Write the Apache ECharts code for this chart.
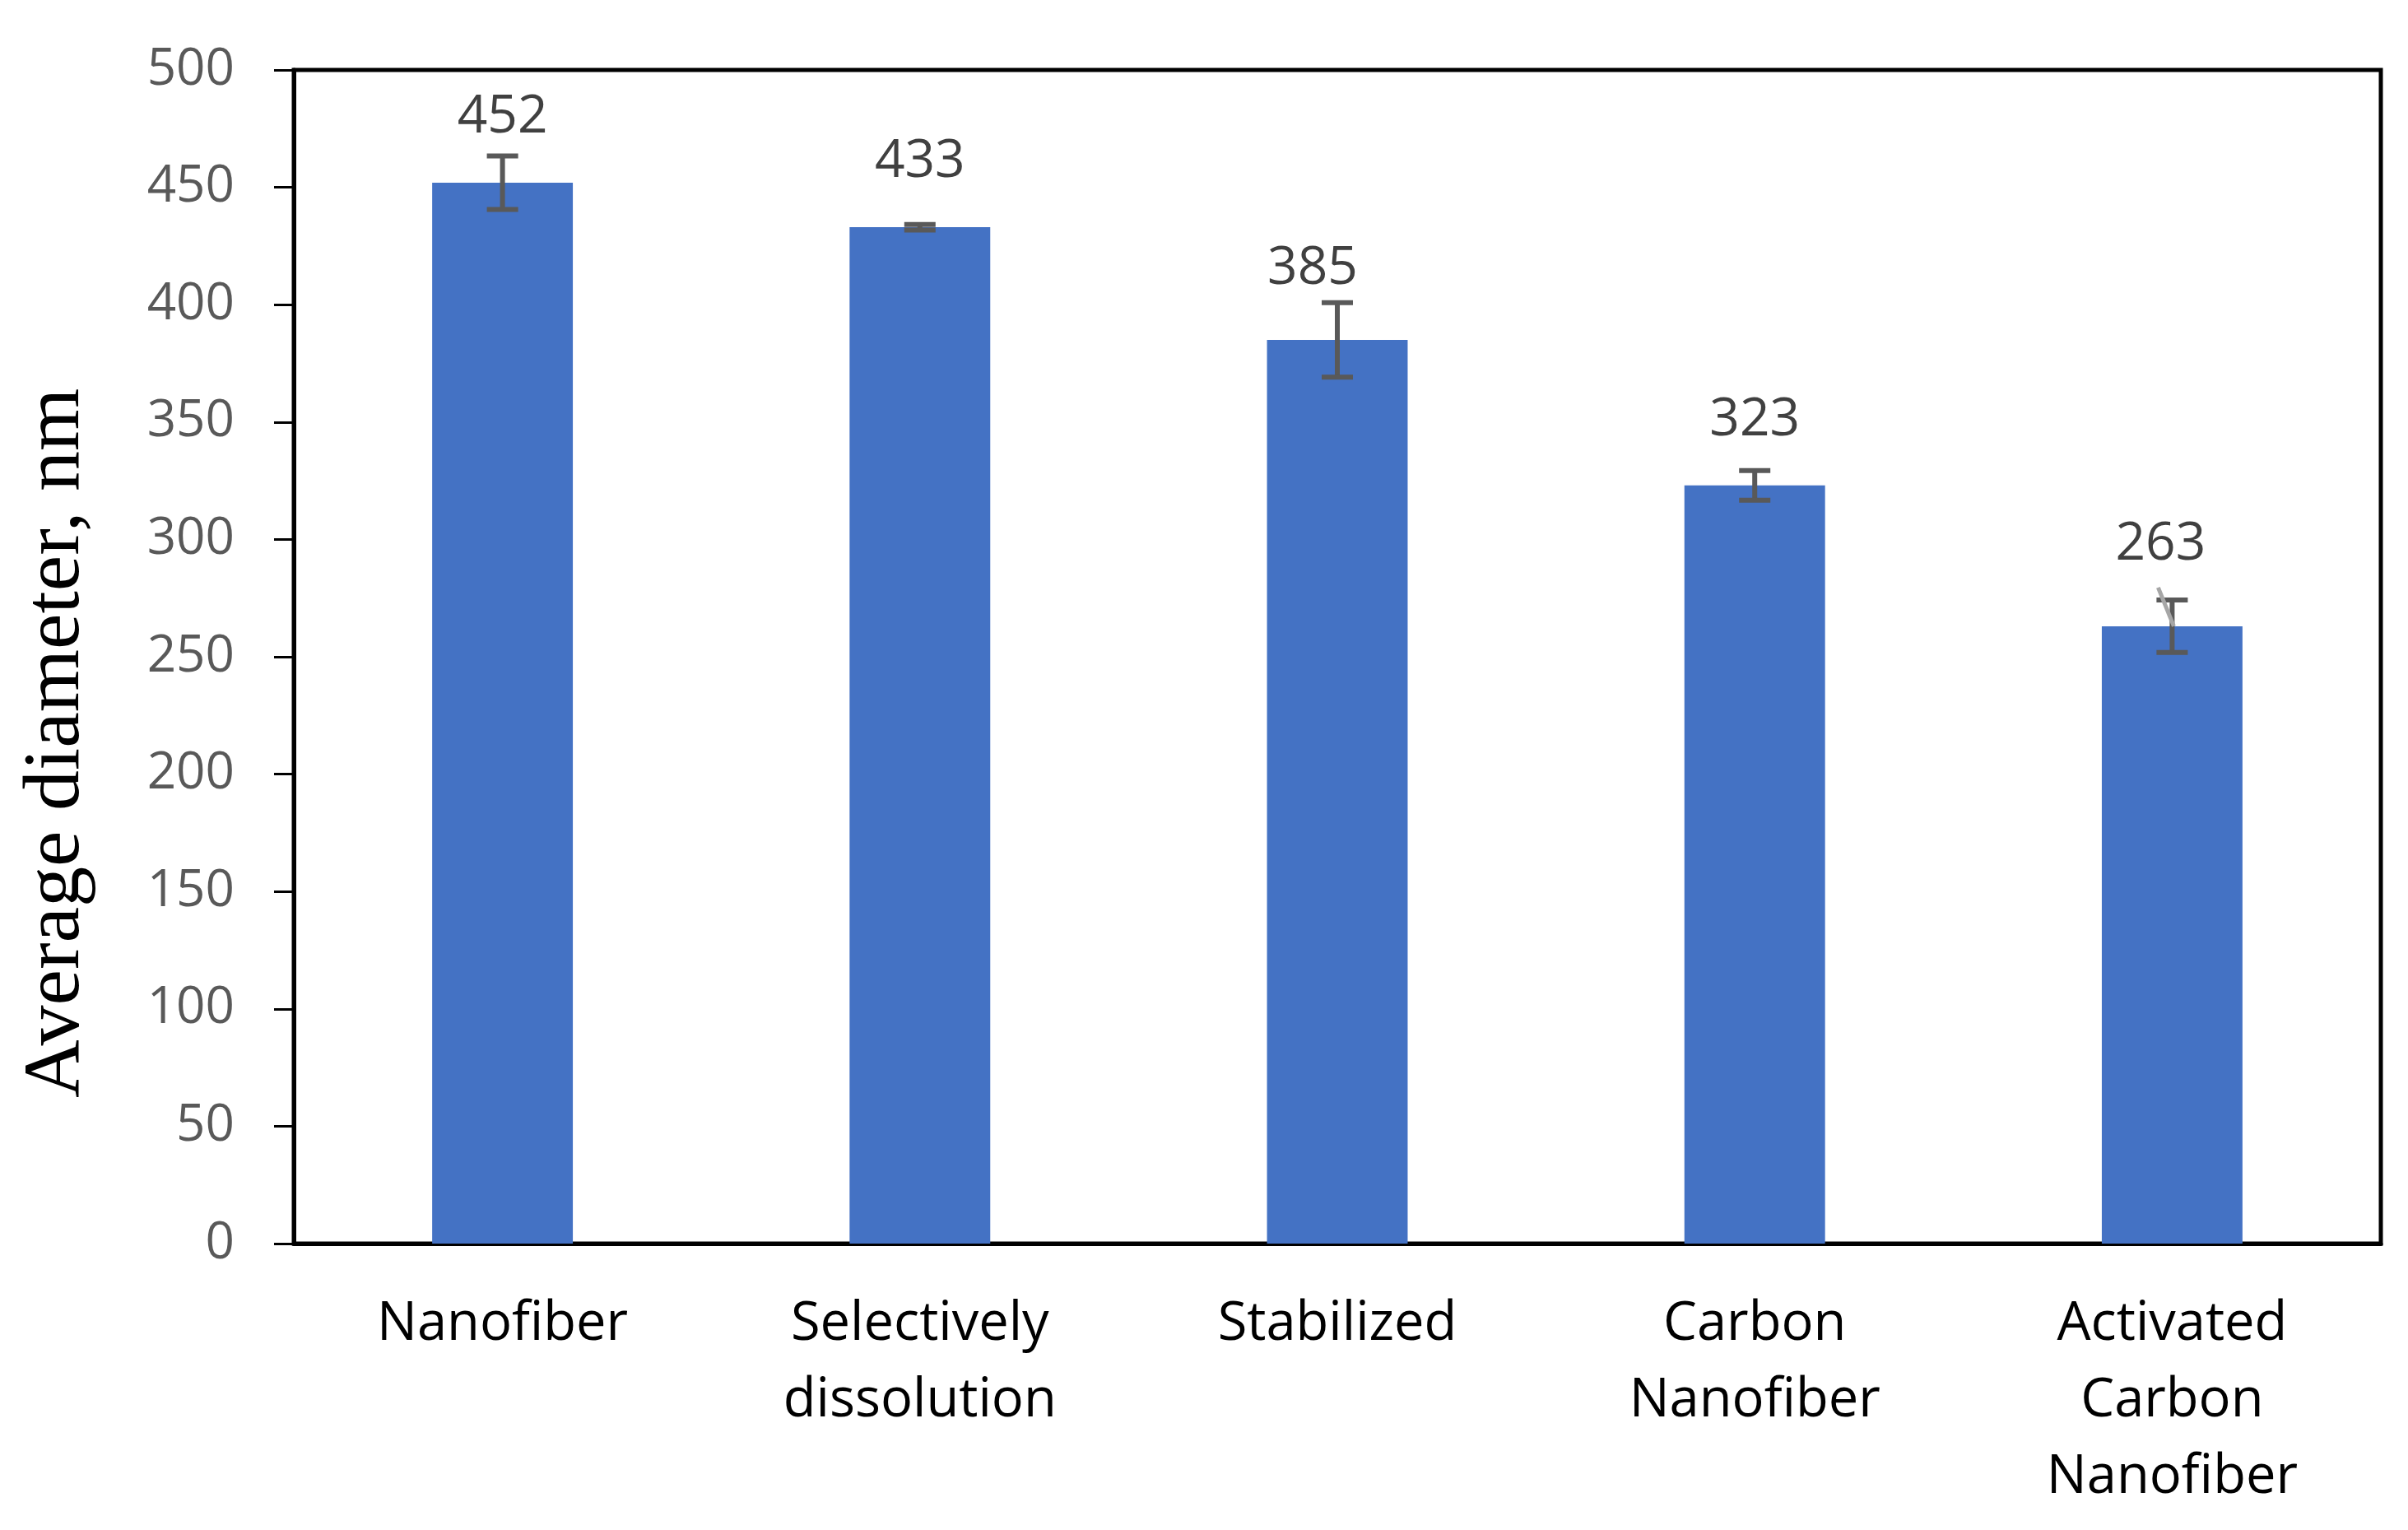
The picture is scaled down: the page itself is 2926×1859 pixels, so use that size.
<!DOCTYPE html>
<html>
<head>
<meta charset="utf-8">
<script src="https://cdn.jsdelivr.net/npm/echarts@6/dist/echarts.min.js"></script>
<style>
html,body{margin:0;padding:0;background:#fff;}
#chart{width:2926px;height:1859px;}
</style>
</head>
<body>
<div id="chart"></div>
<script>
// ---- data ----
const categories = ['Nanofiber', 'Selectively\ndissolution', 'Stabilized', 'Carbon\nNanofiber', 'Activated\nCarbon\nNanofiber'];
const diameters = [452, 433, 385, 323, 263];
const errors = [11.4, 1.2, 15.9, 6.3, 11.2];
const yTicks = [0, 50, 100, 150, 200, 250, 300, 350, 400, 450, 500];
const yTitle = 'Average diameter, nm';

// ---- styling ----
const labelDy = [0, 0, -7, 0, -20];
const labelDx = [0, 0, -30, 0, -14];
const leaderIndex = 4;

const chart = echarts.init(document.getElementById('chart'));
const option = {
  backgroundColor: '#fff',
  animation: false,
  grid: { left: 357, right: 33, top: 85, bottom: 348, show: true, borderColor: '#000', borderWidth: 5, containLabel: false },
  xAxis: {
    type: 'category',
    data: categories,
    axisLine: { lineStyle: { color: '#000', width: 5 } },
    axisTick: { show: false },
    axisLabel: { color: '#000', fontFamily: 'Open Sans', fontSize: 65, lineHeight: 93, margin: 52, interval: 0 }
  },
  yAxis: {
    type: 'value',
    min: yTicks[0],
    max: yTicks[yTicks.length - 1],
    interval: yTicks[1] - yTicks[0],
    splitLine: { show: false },
    axisLine: { show: true, lineStyle: { color: '#000', width: 5 } },
    axisTick: { show: true, length: 24, inside: false, lineStyle: { color: '#000', width: 3 } },
    axisLabel: { color: '#595959', fontFamily: 'Open Sans', fontSize: 62, margin: 72 }
  },
  graphic: [{
    type: 'text',
    x: 69, y: 903,
    rotation: Math.PI / 2,
    style: { text: yTitle, font: '98px "Liberation Serif"', fill: '#000', align: 'center', verticalAlign: 'middle', textAlign: 'center', textVerticalAlign: 'middle' }
  }],
  series: [
    {
      type: 'bar',
      barWidth: '33.7%',
      itemStyle: { color: '#4472C4' },
      data: diameters,
      label: { show: true, position: 'top', distance: 47, color: '#404040', fontFamily: 'Open Sans', fontSize: 64, lineHeight: 64 },
      labelLayout: function (p) { return { dx: labelDx[p.dataIndex], dy: labelDy[p.dataIndex] }; },
      z: 2
    },
    {
      type: 'custom',
      z: 5,
      data: diameters.map((v, i) => [i, v, errors[i]]),
      encode: { x: 0, y: 1 },
      renderItem: function (params, api) {
        const idx = api.value(0), v = api.value(1), e = api.value(2);
        const top = api.coord([idx, v + e]);
        const bot = api.coord([idx, v - e]);
        const mid = api.coord([idx, v]);
        const hw = 19;
        const style = { stroke: '#595959', lineWidth: 6 };
        const children = [
          { type: 'line', shape: { x1: top[0], y1: top[1], x2: bot[0], y2: bot[1] }, style: { stroke: '#595959', lineWidth: 6 } },
          { type: 'line', shape: { x1: top[0] - hw, y1: top[1], x2: top[0] + hw, y2: top[1] }, style: style },
          { type: 'line', shape: { x1: bot[0] - hw, y1: bot[1], x2: bot[0] + hw, y2: bot[1] }, style: style }
        ];
        if (params.dataIndex === leaderIndex) {
          // leader line from the moved data label down to the bar top
          children.push({ type: 'line', shape: { x1: mid[0] - 17, y1: mid[1] - 47, x2: mid[0] + 2, y2: mid[1] }, style: { stroke: '#A6A6A6', lineWidth: 5 } });
        }
        return { type: 'group', children: children };
      }
    }
  ]
};
chart.setOption(option);
</script>
</body>
</html>
